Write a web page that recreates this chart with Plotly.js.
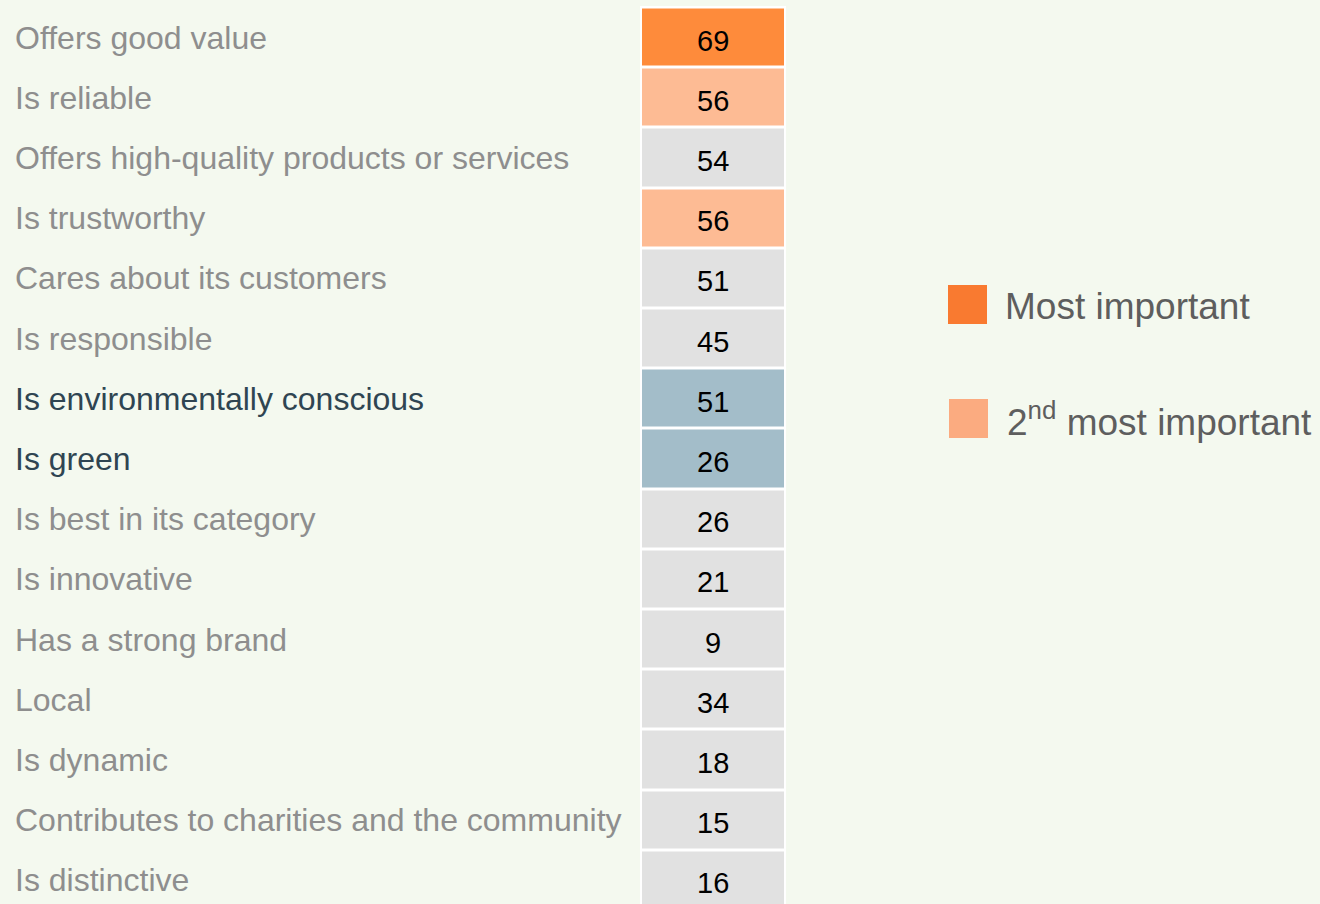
<!DOCTYPE html>
<html>
<head>
<meta charset="utf-8">
<script src="https://cdn.plot.ly/plotly-3.0.1.min.js"></script>
<style>html,body{margin:0;padding:0;background:#f4f9ef;}#chart{width:1320px;height:904px;}</style>
</head>
<body>
<div id="chart"></div>
<script>
const attributes = [
  "Offers good value",
  "Is reliable",
  "Offers high-quality products or services",
  "Is trustworthy",
  "Cares about its customers",
  "Is responsible",
  "Is environmentally conscious",
  "Is green",
  "Is best in its category",
  "Is innovative",
  "Has a strong brand",
  "Local",
  "Is dynamic",
  "Contributes to charities and the community",
  "Is distinctive"
];
const scores = [69, 56, 54, 56, 51, 45, 51, 26, 26, 21, 9, 34, 18, 15, 16];
// 0 = other, 1 = most important, 2 = 2nd most important, 3 = environmental attribute
const highlight = [1, 2, 0, 2, 0, 0, 3, 3, 0, 0, 0, 0, 0, 0, 0];
const legendLabels = ["Most important", "2<sup>nd</sup> most important"];

const W = 1320, H = 904;
const FONT = "Liberation Sans, Arial, sans-serif";
const cellColors = ["#e1e1e1", "#fe8b3b", "#fdbb94", "#a3bdc9"];
const labelColors = ["#8e8e8e", "#8e8e8e", "#8e8e8e", "#2f4552"];
const legendColors = ["#f97a30", "#fbab80"];

const rows = attributes.map((_, i) => i);

const trace = {
  type: "heatmap",
  x: [0],
  y: rows,
  z: highlight.map(h => [h]),
  zmin: 0, zmax: 3,
  colorscale: [[0, cellColors[0]], [1/3, cellColors[1]], [2/3, cellColors[2]], [1, cellColors[3]]],
  showscale: false,
  xgap: 4,
  ygap: 3,
  hoverinfo: "skip"
};

const annotations = [];
attributes.forEach((a, i) => {
  annotations.push({
    text: a,
    xref: "paper", yref: "y",
    x: 13 / W, y: i,
    xanchor: "left", yanchor: "middle",
    showarrow: false,
    font: {family: FONT, size: 32, color: labelColors[highlight[i]]}
  });
  annotations.push({
    text: String(scores[i]),
    xref: "x", yref: "y",
    x: 0, y: i, yshift: -3,
    xanchor: "center", yanchor: "middle",
    showarrow: false,
    font: {family: FONT, size: 29, color: "#000000"}
  });
});

const legendY = [306, 420];
const legendX = [1003, 1005];
const legendSq = [[948, 285, 987, 324], [949, 399, 988, 438]];
const shapes = [];
legendLabels.forEach((lab, k) => {
  annotations.push({
    text: lab,
    xref: "paper", yref: "paper",
    x: legendX[k] / W, y: 1 - legendY[k] / H,
    xanchor: "left", yanchor: "middle",
    showarrow: false,
    font: {family: FONT, size: 37, color: "#5e5e5e"}
  });
  const s = legendSq[k];
  shapes.push({
    type: "rect", xref: "paper", yref: "paper",
    x0: s[0] / W, x1: s[2] / W, y0: 1 - s[3] / H, y1: 1 - s[1] / H,
    fillcolor: legendColors[k], line: {width: 0}
  });
});

const layout = {
  width: W, height: H,
  margin: {l: 0, r: 0, t: 0, b: 0, pad: 0},
  paper_bgcolor: "#f4f9ef",
  plot_bgcolor: "#ffffff",
  showlegend: false,
  hovermode: false,
  xaxis: {domain: [640 / W, 786 / W], range: [-0.5, 0.5], visible: false, fixedrange: true},
  yaxis: {domain: [0, 1 - 6 / H], range: [14.392, -0.525], visible: false, fixedrange: true},
  annotations: annotations,
  shapes: shapes
};

Plotly.newPlot("chart", [trace], layout, {displayModeBar: false, staticPlot: true});
</script>
</body>
</html>
